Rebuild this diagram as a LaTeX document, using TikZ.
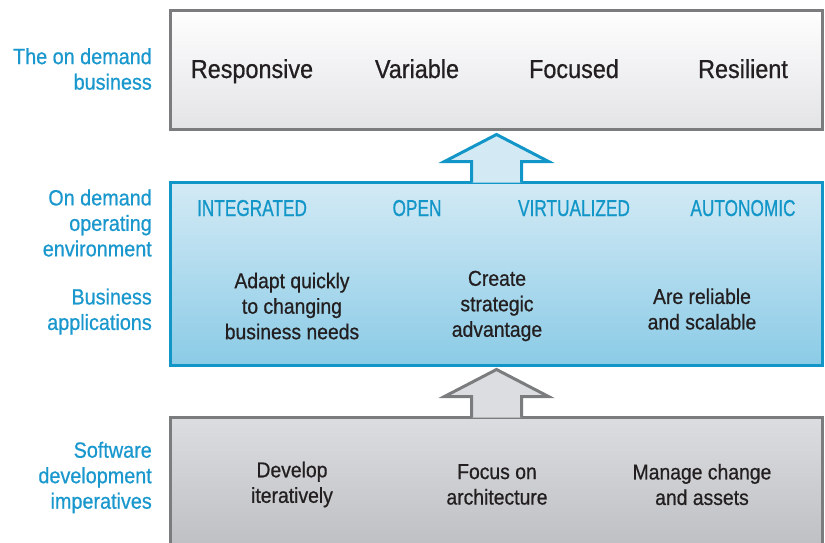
\documentclass[tikz,border=0pt]{standalone}
\usepackage{fontspec}
\usepackage{xcolor}
\usetikzlibrary{positioning, calc}
\newfontfamily\condfont[FakeStretch=0.9, FakeBold=0.7]{Liberation Sans}
\newfontfamily\capsfont[FakeStretch=0.75, FakeBold=0.7]{Liberation Sans}
\definecolor{ibmblue}{HTML}{1296C8}
\definecolor{labelblue}{HTML}{1A98CE}
\definecolor{framegray}{HTML}{7B7C7E}
\definecolor{inktext}{HTML}{231F20}
\definecolor{bluetop}{HTML}{D3EAF5}
\definecolor{bluebottom}{HTML}{8BCBE6}
\definecolor{graytop}{HTML}{DCDDE0}
\definecolor{graybottom}{HTML}{BABBBE}

\begin{document}
\begin{tikzpicture}[
  x=1pt, y=-1pt,
  layerbox/.style={rectangle, minimum width=652pt, line width=3pt, inner sep=0pt},
  sidelabel/.style={anchor=east, align=right, inner sep=0pt, text=labelblue, font=\condfont\fontsize{22}{25.5}\selectfont},
  quality/.style={anchor=base, inner sep=0pt, text=inktext, font=\condfont\fontsize{26}{30}\selectfont},
  principle/.style={anchor=base, inner sep=0pt, text=ibmblue, font=\capsfont\fontsize{23}{26}\selectfont},
  note/.style={align=center, inner sep=0pt, text=inktext, font=\condfont\fontsize{21.5}{25.5}\selectfont},
  uparrow/.style={line width=3pt, line join=miter}
]
  \useasboundingbox (0,0) rectangle (825,543);

  % Layer boxes
  \node[layerbox, minimum height=118pt, draw=framegray, top color=white!97!graytop, bottom color=graytop!80!white] (biz) at (496.5,70) {};
  \node[layerbox, minimum height=183pt, draw=ibmblue, top color=bluetop, bottom color=bluebottom] (env) at (496.5,273.5) {};
  \node[layerbox, minimum height=150pt, draw=framegray, top color=graytop, bottom color=graybottom] (dev) at (496.5,492) {};

  % Arrows between layers
  \draw[uparrow, draw=ibmblue, fill=bluetop]
    ($(env.north)+(-25,2)$) -- ++(0,-21) -- ++(-27,0) -- ($(env.north)+(0,-46)$)
    -- ($(env.north)+(52,-19)$) -- ++(-27,0) -- ++(0,21);
  \draw[uparrow, draw=framegray, fill=graytop]
    ($(dev.north)+(-25,2)$) -- ++(0,-21) -- ++(-27,0) -- ($(dev.north)+(0,-46)$)
    -- ($(dev.north)+(52,-19)$) -- ++(-27,0) -- ++(0,21);

  % Side labels
  \node[sidelabel] (lbiz) at (152,69) {The on demand\\business};
  \node[sidelabel] (lenv) at (152,223) {On demand\\operating\\environment};
  \node[sidelabel] (lapp) at (152,311.5) {Business\\applications};
  \node[sidelabel] (ldev) at (152,477.5) {Software\\development\\imperatives};

  % Business qualities
  \node[quality] (q1) at (252,78) {Responsive};
  \node[quality] (q2) at (417,78) {Variable};
  \node[quality] (q3) at (574,78) {Focused};
  \node[quality] (q4) at (743,78) {Resilient};

  % Environment principles
  \node[principle] (p1) at (252,216) {INTEGRATED};
  \node[principle] (p2) at (417,216) {OPEN};
  \node[principle] (p3) at (574,216) {VIRTUALIZED};
  \node[principle] (p4) at (743,216) {AUTONOMIC};

  % Application notes
  \node[note] (a1) at (292,306) {Adapt quickly\\to changing\\business needs};
  \node[note] (a2) at (497,306) {Create\\strategic\\advantage};
  \node[note] (a3) at (702,309) {Are reliable\\and scalable};

  % Development notes
  \node[note] (d1) at (292,484.5) {Develop\\iteratively};
  \node[note] (d2) at (497,484.5) {Focus on\\architecture};
  \node[note] (d3) at (702,484.5) {Manage change\\and assets};
\end{tikzpicture}
\end{document}
